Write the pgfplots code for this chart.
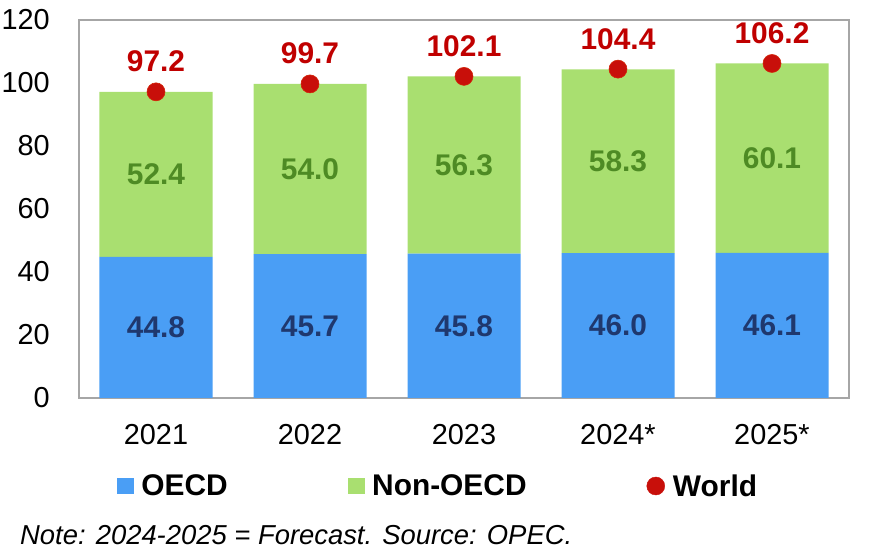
\documentclass[border=0pt]{standalone}
\usepackage{pgfplots}
\pgfplotsset{compat=1.18}
\usepackage{fontspec}
\setmainfont{Liberation Sans}
\definecolor{oecdblue}{RGB}{74,158,245}
\definecolor{nongreen}{RGB}{169,223,112}
\definecolor{navytxt}{RGB}{31,56,110}
\definecolor{greentxt}{RGB}{78,139,36}
\definecolor{redtxt}{RGB}{192,0,0}
\definecolor{dotred}{RGB}{200,15,10}
\definecolor{framegray}{RGB}{166,166,166}
\begin{document}
\begin{tikzpicture}
\useasboundingbox (0,0) rectangle (878bp,551bp);
% main axis with stacked bars
\begin{axis}[
  at={(79bp,153bp)}, anchor=south west,
  width=770bp, height=378bp, scale only axis,
  xmin=-0.5, xmax=4.5, ymin=0, ymax=120,
  ytick={0,20,...,120},
  xtick={0,1,2,3,4},
  xticklabels={2021,2022,2023,2024*,2025*},
  major tick length=0pt,
  axis line style={draw=framegray, line width=1.4bp},
  /pgf/number format/assume math mode=true,
  tick label style={font=\fontsize{29}{34}\selectfont, text=black},
  yticklabel style={anchor=east, inner sep=0pt, xshift=-29bp},
  xticklabel style={anchor=base, inner sep=0pt, yshift=-47bp},
  ybar stacked, bar width=113bp,
]
\addplot[fill=oecdblue, draw=none] coordinates {(0,44.8) (1,45.7) (2,45.8) (3,46.0) (4,46.1)};
\addplot[fill=nongreen, draw=none] coordinates {(0,52.4) (1,54.0) (2,56.3) (3,58.3) (4,60.1)};
\end{axis}
% overlay axis for labels, dots and legend
\begin{axis}[
  at={(79bp,153bp)}, anchor=south west,
  width=770bp, height=378bp, scale only axis,
  xmin=-0.5, xmax=4.5, ymin=0, ymax=120,
  hide axis, clip=false,
  legend columns=3,
  legend style={at={(axis description cs:0.0494,-0.2328)}, anchor=west,
    draw=none, fill=none, inner sep=0pt, outer sep=0pt,
    font=\fontsize{30}{34}\selectfont\bfseries,
    nodes={inner sep=0pt},
    /tikz/every odd column/.style={column sep=8bp},
    /tikz/every even column/.style={column sep=120bp}},
]
\addlegendimage{legend image code/.code={\fill[oecdblue] (0bp,-7.5bp) rectangle (16bp,7.5bp);}}
\addlegendentry{OECD}
\addlegendimage{legend image code/.code={\fill[nongreen] (0bp,-7.5bp) rectangle (16bp,7.5bp);}}
\addlegendentry{Non-OECD}
\addplot[only marks, mark=*, mark size=9bp, mark options={fill=dotred, draw=dotred!80!orange, line width=0.6bp},
  legend image code/.code={\fill[dotred] (9bp,0bp) circle (9bp);},
  point meta=explicit symbolic, nodes near coords,
  every node near coord/.style={anchor=base, inner sep=0pt, yshift=20bp, text=redtxt, font=\fontsize{30}{34}\selectfont\bfseries}]
  coordinates {(0,97.2)[97.2] (1,99.7)[99.7] (2,102.1)[102.1] (3,104.4)[104.4] (4,106.2)[106.2]};
\addlegendentry{World}
% OECD segment labels (at segment middles)
\addplot[forget plot, draw=none, mark=none, point meta=explicit symbolic, nodes near coords,
  every node near coord/.style={anchor=center, inner sep=0pt, text=navytxt, font=\fontsize{30}{34}\selectfont\bfseries}]
  coordinates {(0,22.4)[44.8] (1,22.85)[45.7] (2,22.9)[45.8] (3,23.0)[46.0] (4,23.05)[46.1]};
% Non-OECD segment labels
\addplot[forget plot, draw=none, mark=none, point meta=explicit symbolic, nodes near coords,
  every node near coord/.style={anchor=center, inner sep=0pt, text=greentxt, font=\fontsize{30}{34}\selectfont\bfseries}]
  coordinates {(0,71.0)[52.4] (1,72.7)[54.0] (2,73.95)[56.3] (3,75.15)[58.3] (4,76.15)[60.1]};
\end{axis}
\node[anchor=base west, inner sep=0pt, font=\fontsize{27.5}{32}\selectfont\itshape] at (20bp,7bp) {Note: 2024-2025 = Forecast. Source: OPEC.};
\end{tikzpicture}
\end{document}
